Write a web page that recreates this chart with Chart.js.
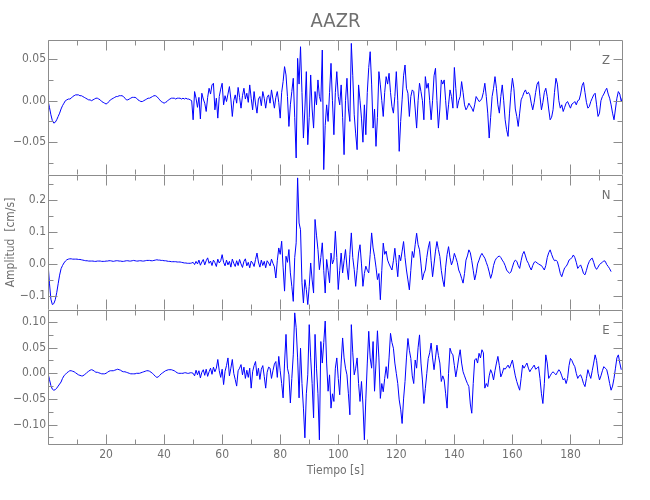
<!DOCTYPE html>
<html>
<head>
<meta charset="utf-8">
<title>AAZR</title>
<script src="https://cdn.jsdelivr.net/npm/chart.js@4.4.1/dist/chart.umd.min.js"></script>
<style>
  body { margin: 0; background: #fff; }
  #wrap { position: relative; width: 650px; height: 500px; }
  .panel { position: absolute; left: 0; width: 650px; }
</style>
</head>
<body>
<div id="wrap">
  <div class="panel" style="top:0;height:175px"><canvas id="cZ"></canvas></div>
  <div class="panel" style="top:175px;height:135px"><canvas id="cN"></canvas></div>
  <div class="panel" style="top:310px;height:190px"><canvas id="cE"></canvas></div>
</div>
<script>
// sampling interval of the traces (s)
const dt = 0.5;

// x axis (Tiempo [s])
const xMax = 198.1;
const xTicks = [0, 10, 20, 30, 40, 50, 60, 70, 80, 90, 100, 110, 120, 130, 140, 150, 160, 170, 180, 190];
const xLabels = ['', '', '20', '', '40', '', '60', '', '80', '', '100', '', '120', '', '140', '', '160', '', '180', ''];

// y axis ticks per component
const zTicks = [-0.075, -0.05, -0.025, 0, 0.025, 0.05];
const zLabels = ['', '\u22120.05', '', '0.00', '', '0.05'];
const nTicks = [-0.1, -0.05, 0, 0.05, 0.1, 0.15, 0.2, 0.25];
const nLabels = ['\u22120.1', '', '0.0', '', '0.1', '', '0.2', ''];
const eTicks = [-0.125, -0.1, -0.075, -0.05, -0.025, 0, 0.025, 0.05, 0.075, 0.1];
const eLabels = ['', '\u22120.10', '', '\u22120.05', '', '0.00', '', '0.05', '', '0.10'];

// velocities, in 1e-3 cm/s, one sample every dt seconds from t = 0
const zVals = [
  0,-8,-17,-24,-27,-26,-23,-19,-15,-10,
  -6,-3,0,1,2,2,3,5,6,7,
  7,7,6,6,5,4,3,2,1,1,
  0,1,2,3,3,2,1,-1,-2,-3,
  -4,-3,-1,1,2,3,4,5,5,6,
  6,6,5,3,1,1,2,3,4,4,
  4,3,1,0,-1,-1,0,1,2,3,
  3,4,5,6,6,5,3,1,-1,-2,
  -3,-2,-1,1,2,3,3,3,2,3,
  3,3,2,3,2,3,2,2,1,0,
  -23,11,3,-8,4,-22,9,2,-3,-13,
  4,15,8,19,21,-11,3,-21,5,14,
  21,-5,6,-1,8,17,2,-19,0,7,
  -3,16,4,-9,6,15,2,9,-2,19,
  3,-11,11,-4,-15,2,5,-6,11,3,
  -9,4,7,-3,13,2,-9,4,11,-2,
  -21,10,23,41,31,5,-31,-5,11,27,
  -20,-69,51,20,65,10,-45,-10,35,-53,
  -20,31,-10,-33,11,-5,25,5,-1,61,
  -83,-30,-5,-25,10,45,0,-41,10,35,
  5,-5,19,-20,-65,0,27,-10,-25,69,
  30,-17,-40,-59,19,0,-21,-50,-5,-41,
  10,40,59,20,-33,-10,-55,-20,35,19,
  0,-19,10,29,20,33,10,-7,-15,5,
  35,0,-61,-25,1,30,43,15,9,-19,
  5,13,11,-10,-33,0,21,11,0,-23,
  29,15,21,0,-23,0,30,39,0,-33,
  -10,25,20,25,0,-23,-5,13,5,-9,
  40,15,-9,0,5,23,10,-5,-11,-8,
  -3,-6,-9,-13,-5,5,2,-1,0,3,
  10,21,5,-15,-45,-20,5,15,29,15,
  -5,-15,5,19,0,-23,-35,-43,-15,10,
  27,15,-10,-19,-31,-15,1,5,10,13,
  8,10,7,-3,-11,-2,10,20,23,5,
  -11,-2,10,15,5,-10,-23,-20,-11,10,
  27,20,0,-9,-5,-13,-8,-3,-1,-5,
  -9,-4,-3,-1,-5,0,1,8,18,22,
  10,-2,-9,-7,-1,3,7,9,-5,-19,
  -15,0,5,8,12,15,8,3,-5,-15,
  -23,-10,3,11,8,-1,5
];

const nVals = [
  3,-60,-110,-127,-124,-112,-90,-62,-35,-15,
  -5,3,9,13,15,16,16,15,15,15,
  15,14,14,13,12,11,10,10,9,9,
  9,9,8,8,9,9,9,8,8,8,
  9,9,10,10,9,8,9,10,10,9,
  9,8,8,9,10,10,9,9,10,11,
  10,9,9,10,10,9,9,10,11,11,
  11,10,10,11,12,13,12,12,11,11,
  10,10,9,8,8,7,7,7,7,6,
  6,6,5,4,3,3,2,2,2,3,
  5,-2,8,0,12,-4,6,14,-3,10,
  19,2,9,-5,12,4,-8,15,3,10,
  29,5,-6,12,-3,8,-10,15,2,-8,
  10,-5,14,0,-11,8,16,-6,5,-12,
  9,3,-8,14,34,6,-10,12,-5,8,
  -12,10,3,-6,15,2,-9,-44,10,50,
  30,71,-10,-85,24,5,45,-28,-70,-117,
  20,66,269,128,107,-59,-122,-49,-80,-127,
  -70,3,-50,-91,139,90,45,-18,20,66,
  -20,-91,14,-20,-59,34,0,14,102,20,
  -80,-20,34,-28,10,45,-10,-49,30,97,
  20,-18,-70,-20,34,60,0,-70,-30,-7,
  -20,-28,30,97,50,24,-10,-49,-30,-112,
  -20,65,30,40,12,0,-10,-19,10,49,
  5,-40,28,10,40,70,20,-19,-50,-81,
  -20,39,20,60,96,60,44,0,-50,-30,
  -19,20,50,70,10,-40,0,40,70,45,
  23,-20,-50,-71,-10,30,54,20,-3,10,
  33,20,5,-19,-30,-45,-60,-30,12,25,
  44,35,10,-20,-50,-30,0,12,25,33,
  25,18,5,-8,-25,-45,-30,-5,10,18,
  22,25,20,12,5,-5,-19,-25,-29,-25,
  -10,5,12,8,-5,-14,10,30,39,25,
  10,2,-10,-19,-5,5,7,3,0,-3,
  -5,-12,-19,-5,20,35,44,30,18,10,
  12,7,-10,-30,-40,-25,-12,-8,0,12,
  15,20,28,20,5,-14,-8,-3,-15,-30,
  -34,-20,-3,8,15,18,5,-10,-17,-10,
  -2,2,5,10,8,-2,-8,-15,-24
];

const eVals = [
  0,-12,-24,-31,-33,-32,-29,-25,-21,-17,
  -10,-5,-2,1,3,5,5,4,3,1,
  -1,-3,-4,-5,-5,-3,-1,2,4,6,
  7,6,4,2,2,1,0,-1,-1,-1,
  0,2,4,5,5,5,6,7,8,7,
  6,4,3,3,2,1,0,-1,-1,-1,
  -1,0,0,0,1,2,3,4,5,5,
  4,2,0,-3,-6,-8,-7,-4,-1,1,
  3,5,6,7,7,7,6,5,3,1,
  0,0,0,0,1,1,0,0,1,1,
  0,-5,6,-3,5,-9,2,7,-4,8,
  -6,3,10,-2,12,3,10,27,5,-8,
  8,-22,4,15,30,-5,10,27,0,-12,
  -25,5,10,17,-3,12,-10,6,-8,10,
  -29,3,15,23,-5,10,-12,8,15,-6,
  -29,2,12,10,-10,5,18,23,-8,33,
  5,-20,-48,20,76,10,-3,-58,-10,36,
  118,89,30,-48,49,-20,-68,-126,-40,-3,
  95,30,-20,-87,76,10,-40,-130,62,20,
  60,102,20,-35,-3,-68,-40,-55,10,30,
  -10,-42,20,69,30,10,-3,-40,-81,95,
  40,-3,10,30,-20,-55,-16,-60,-130,-50,
  20,82,30,10,62,-35,20,83,30,-49,
  -20,-36,-10,13,-10,30,78,60,49,20,
  0,-20,-52,-70,-98,-50,-16,30,68,45,
  29,-5,-20,26,10,50,75,20,-13,-59,
  -30,0,29,40,59,30,7,30,55,35,
  20,-16,-5,-13,-40,-68,0,49,40,36,
  15,-7,10,30,46,20,3,-5,-13,-20,
  -26,-60,-78,-20,26,29,20,39,30,46,
  40,-29,-20,-26,-5,7,0,-13,5,20,
  33,15,-7,0,10,8,12,16,10,18,
  26,10,-5,-16,-25,-33,-10,16,10,15,
  20,10,3,8,12,16,8,10,13,-10,
  -40,-59,-20,36,20,-10,-5,0,3,0,
  -3,2,7,3,-5,-13,-10,-20,-10,15,
  29,25,18,13,0,-10,-5,-3,-10,-20,
  -26,-10,7,-2,-10,5,20,36,25,0,
  -13,-5,5,13,10,7,-5,-20,-33,-25,
  -10,10,30,36,20,7
];

const lineColor = '#0000ff';
const axisColor = '#8c8c8c';
const textColor = '#707070';
const fontFamily = "'Liberation Sans Narrow', 'DejaVu Sans Condensed', 'Liberation Sans', sans-serif";

Chart.defaults.font.family = fontFamily;
Chart.defaults.color = textColor;

// box around the plot area with inward ticks on all four sides, plus the component letter
const frameTicks = {
  id: 'frameTicks',
  afterDatasetsDraw(chart, args, opts) {
    const { ctx, chartArea: a, scales: { x, y } } = chart;
    const L = Math.round(a.left) + 0.5;
    const R = Math.round(a.right) - 0.5;
    const T = Math.round(a.top) + 0.5;
    const B = Math.round(a.bottom) - 0.5;
    ctx.save();
    ctx.strokeStyle = axisColor;
    ctx.lineWidth = 1;
    ctx.beginPath();
    ctx.moveTo(L, B); ctx.lineTo(L, T); ctx.lineTo(R, T); ctx.lineTo(R, B);
    if (opts.bottom) ctx.lineTo(L, B);
    xTicks.forEach(v => {
      const px = Math.round(x.getPixelForValue(v)) + 0.5;
      const len = (v % 20 === 0) ? 10 : 5;
      ctx.moveTo(px, T); ctx.lineTo(px, T + len);
      ctx.moveTo(px, B); ctx.lineTo(px, B - len);
    });
    opts.yTicks.forEach((v, i) => {
      const py = Math.round(y.getPixelForValue(v)) + 0.5;
      const len = opts.yLabels[i] ? 9 : 5;
      ctx.moveTo(L, py); ctx.lineTo(L + len, py);
      ctx.moveTo(R, py); ctx.lineTo(R - len, py);
    });
    ctx.stroke();
    ctx.fillStyle = textColor;
    ctx.font = '13px ' + fontFamily;
    ctx.textAlign = 'center';
    ctx.textBaseline = 'middle';
    ctx.fillText(opts.letter, a.right - 17, a.top + 21);
    ctx.restore();
  }
};

function makePanel(canvasId, vals, yMin, yMax, yTicks, yLabels, letter, extra) {
  const points = vals.map((v, i) => ({ x: i * dt, y: v / 1000 }));
  const tickFont = { size: 12 };
  const showX = !!extra.showX;
  return new Chart(document.getElementById(canvasId), {
    type: 'line',
    data: {
      datasets: [{
        data: points,
        borderColor: lineColor,
        borderWidth: 1,
        pointRadius: 0,
        tension: 0,
        fill: false
      }]
    },
    options: {
      responsive: true,
      maintainAspectRatio: false,
      animation: false,
      events: [],
      layout: { padding: { left: 0, right: 27, top: 0, bottom: 0 } },
      plugins: {
        legend: { display: false },
        tooltip: { enabled: false },
        title: extra.title ? {
          display: true,
          text: extra.title,
          fullSize: false,
          color: textColor,
          font: { size: 20, weight: 'normal' },
          padding: { top: 10, bottom: 6 }
        } : { display: false },
        frameTicks: { yTicks, yLabels, letter, bottom: showX }
      },
      scales: {
        x: {
          type: 'linear',
          min: 0,
          max: xMax,
          display: showX,
          afterBuildTicks: s => { s.ticks = xTicks.map(v => ({ value: v })); },
          afterFit: s => { s.height = showX ? 55 : 0; },
          grid: { display: false, drawTicks: false },
          border: { display: false },
          ticks: {
            callback: (v, i) => xLabels[i],
            autoSkip: false,
            maxRotation: 0,
            padding: 3,
            color: textColor,
            font: tickFont
          },
          title: {
            display: showX,
            text: 'Tiempo [s]',
            color: textColor,
            font: { size: 12 },
            padding: { top: 0, bottom: 22 }
          }
        },
        y: {
          type: 'linear',
          min: yMin,
          max: yMax,
          afterBuildTicks: s => { s.ticks = yTicks.map(v => ({ value: v })); },
          afterFit: s => { s.width = 48; s.paddingTop = 0; s.paddingBottom = 0; },
          grid: { display: false, drawTicks: false },
          border: { display: false },
          ticks: {
            callback: (v, i) => yLabels[i],
            autoSkip: false,
            padding: 2,
            color: textColor,
            font: tickFont
          },
          title: {
            display: !!extra.yTitle,
            text: extra.yTitle || '',
            color: textColor,
            font: { size: 12 },
            padding: { top: 4, bottom: 0 }
          }
        }
      }
    },
    plugins: [frameTicks]
  });
}

makePanel('cZ', zVals, -0.0895, 0.0731, zTicks, zLabels, 'Z', { title: 'AAZR' });
makePanel('cN', nVals, -0.144, 0.278, nTicks, nLabels, 'N', { yTitle: 'Amplitud  [cm/s]' });
makePanel('cE', eVals, -0.140, 0.1236, eTicks, eLabels, 'E', { showX: true });
</script>
</body>
</html>
